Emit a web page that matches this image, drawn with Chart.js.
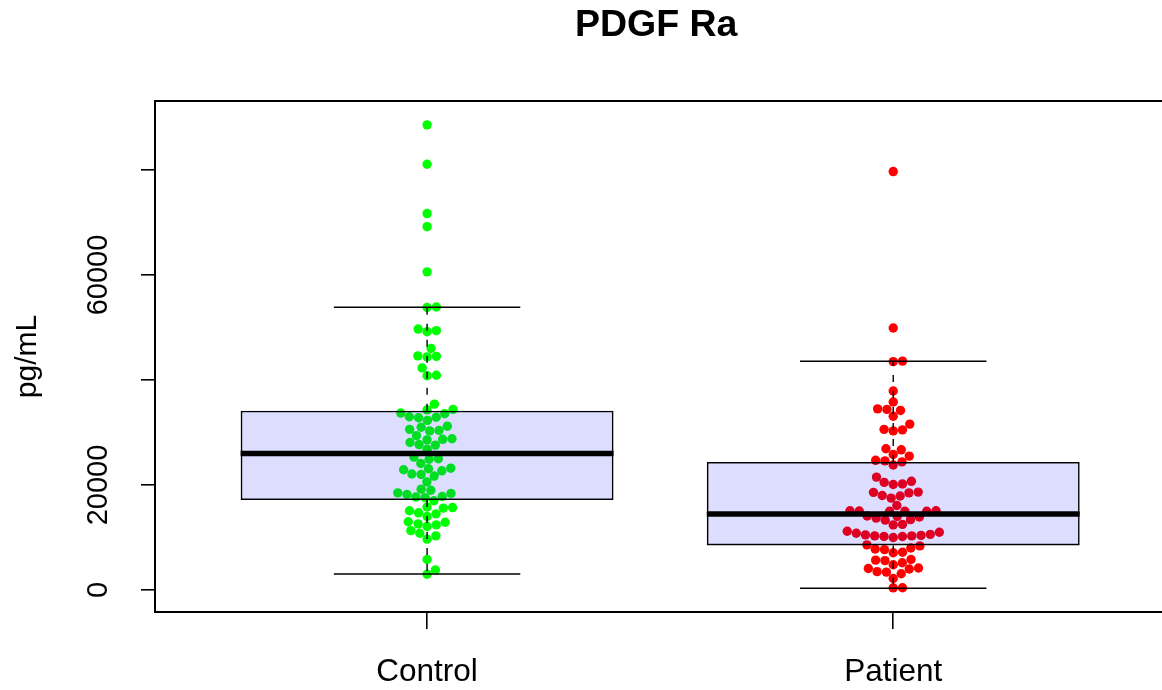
<!DOCTYPE html>
<html>
<head>
<meta charset="utf-8">
<script src="https://cdn.jsdelivr.net/npm/chart.js@4.4.1/dist/chart.umd.min.js"></script>
<style>
  body { margin: 0; background: #fff; }
</style>
</head>
<body>
<canvas id="grafico" width="1162" height="690"></canvas>
<script>
// categorías y valores (pg/mL)
const groups = ['Control', 'Patient'];

const control = [88600, 81100, 71700, 69200, 60600, 53800, 53900, 49700, 49200, 49400,
  46000, 44600, 44400, 44500, 42300, 40900, 40800, 35400, 34400, 34300,
  33700, 33600, 33000, 32900, 32800, 32300, 31200, 31000, 30600, 30300,
  30400, 29400, 28800, 28700, 28600, 28100, 27700, 27600, 26800, 25300,
  25000, 24900, 24100, 23100, 23200, 22900, 22700, 22100, 22000, 21700,
  20600, 19200, 19000, 18500, 18400, 18200, 17800, 17700, 17600, 17000,
  15800, 15700, 15600, 15100, 14700, 14500, 14000, 13000, 12900, 12600,
  12400, 12100, 11300, 10800, 10300, 9700, 5800, 3800, 3000];

const patient = [79700, 49900, 43600, 43500, 37900, 35800, 34500, 34400, 34200, 33100,
  31600, 30600, 30500, 30300, 26900, 26700, 25800, 25500, 24700, 24600,
  24400, 23800, 21500, 20700, 20500, 20200, 20100, 18650, 18600, 18500,
  18000, 17900, 17500, 16100, 15000, 15100, 15000, 15100, 15050, 15000,
  14000, 14100, 13900, 13700, 13300, 13400, 12400, 12500, 11200, 11000,
  10800, 10600, 10500, 10400, 10300, 10300, 10200, 10200, 10000, 8600,
  8400, 8000, 7800, 7700, 7200, 7100, 5800, 5700, 5600, 5200,
  4800, 4100, 4200, 4000, 3500, 3400, 3100, 2200, 400, 420];

// estadísticos de las cajas (bigote sup, Q3, mediana, Q1, bigote inf)
const whiskerHi = [53850, 43560];
const boxQ3 = [34150, 24400];
const boxMedian = [26000, 14480];
const boxQ1 = [17140, 8500];
const whiskerLo = [3050, 330];

const yTicks = [0, 20000, 40000, 60000, 80000];
const yTickLabels = ['0', '20000', '', '60000', ''];

const FONT = '"Liberation Sans", Arial, Helvetica, sans-serif';
const DOT = 9.3;      // diámetro de colisión del enjambre (px)
const BOX_HALF = 0.4; // mitad del ancho de la caja
const STAPLE_HALF = 0.2;

// segmentos de las cajas
const medianData = [];
const stapleData = [];
const whiskerData = [];
groups.forEach((g, i) => {
  const x = i + 1;
  medianData.push({x: x - BOX_HALF, y: boxMedian[i]}, {x: x + BOX_HALF, y: boxMedian[i]}, {x: x + 0.5, y: null});
  stapleData.push({x: x - STAPLE_HALF, y: whiskerHi[i]}, {x: x + STAPLE_HALF, y: whiskerHi[i]}, {x: x + 0.5, y: null});
  stapleData.push({x: x - STAPLE_HALF, y: whiskerLo[i]}, {x: x + STAPLE_HALF, y: whiskerLo[i]}, {x: x + 0.5, y: null});
  whiskerData.push({x: x, y: boxQ3[i]}, {x: x, y: whiskerHi[i]}, {x: x, y: null});
  whiskerData.push({x: x, y: boxQ1[i]}, {x: x, y: whiskerLo[i]}, {x: x, y: null});
});

// línea superior del marco (el lado derecho queda fuera del lienzo)
const marcoSuperior = {
  id: 'marcoSuperior',
  afterDraw(chart) {
    const {ctx, chartArea} = chart;
    ctx.save();
    ctx.strokeStyle = '#000';
    ctx.lineWidth = 2;
    ctx.beginPath();
    ctx.moveTo(chartArea.left - 1, chartArea.top);
    ctx.lineTo(chart.width, chartArea.top);
    ctx.moveTo(chartArea.right, chartArea.bottom);
    ctx.lineTo(chart.width, chartArea.bottom);
    ctx.stroke();
    ctx.restore();
  }
};

const ctx = document.getElementById('grafico').getContext('2d');

const chart = new Chart(ctx, {
  type: 'scatter',
  data: {
    datasets: [
      {
        label: 'Control',
        data: control.map(v => ({x: 1, y: v})),
        backgroundColor: '#00ff00',
        borderWidth: 0,
        pointRadius: 4.7,
        order: 5
      },
      {
        label: 'Patient',
        data: patient.map(v => ({x: 2, y: v})),
        backgroundColor: '#ff0000',
        borderWidth: 0,
        pointRadius: 4.7,
        order: 4
      },
      {
        type: 'bar',
        label: 'caja',
        data: groups.map((g, i) => ({x: i + 1, y: [boxQ1[i], boxQ3[i]]})),
        backgroundColor: 'rgba(0, 0, 255, 0.135)',
        borderColor: '#000',
        borderWidth: 1.6,
        borderSkipped: false,
        categoryPercentage: 0.8,
        barPercentage: 1,
        grouped: false,
        order: 3
      },
      {
        type: 'line',
        label: 'bigotes',
        data: whiskerData,
        borderColor: '#000',
        borderWidth: 1.4,
        borderDash: [7, 9],
        pointRadius: 0,
        spanGaps: false,
        order: 2
      },
      {
        type: 'line',
        label: 'topes',
        data: stapleData,
        borderColor: '#000',
        borderWidth: 1.6,
        pointRadius: 0,
        spanGaps: false,
        order: 1
      },
      {
        type: 'line',
        label: 'mediana',
        data: medianData,
        borderColor: '#000',
        borderWidth: 5.5,
        borderCapStyle: 'butt',
        pointRadius: 0,
        spanGaps: false,
        order: 0
      }
    ]
  },
  options: {
    responsive: false,
    animation: false,
    events: [],
    layout: { padding: 0 },
    plugins: {
      legend: { display: false },
      tooltip: { enabled: false },
      title: {
        display: true,
        fullSize: false,
        text: 'PDGF Ra',
        color: '#000',
        font: { family: FONT, size: 37.5, weight: 'bold' },
        padding: { top: 3, bottom: 101 - 3 - 45 }
      }
    },
    scales: {
      x: {
        type: 'linear',
        offset: false,
        min: 0.4163,
        max: 2.5665,
        afterBuildTicks: scale => { scale.ticks = groups.map((g, i) => ({value: i + 1})); },
        afterFit: scale => { scale.height = 78; },
        ticks: {
          autoSkip: false,
          maxRotation: 0,
          padding: 24,
          color: '#000',
          font: { family: FONT, size: 31.5 },
          callback: value => groups[value - 1]
        },
        grid: { offset: false, drawOnChartArea: false, tickLength: 17, color: '#000', lineWidth: 1.6 },
        border: { color: '#000', width: 2 }
      },
      y: {
        type: 'linear',
        min: -4190,
        max: 93140,
        afterBuildTicks: scale => { scale.ticks = yTicks.map(v => ({value: v})); },
        afterFit: scale => { scale.width = 155; },
        ticks: {
          autoSkip: false,
          minRotation: 90,
          maxRotation: 90,
          crossAlign: 'center',
          padding: 2,
          color: '#000',
          font: { family: FONT, size: 29 },
          callback: (value, index) => yTickLabels[index]
        },
        grid: { drawOnChartArea: false, tickLength: 14, color: '#000', lineWidth: 1.6 },
        border: { color: '#000', width: 2 },
        title: {
          display: true,
          text: 'pg/mL',
          color: '#000',
          font: { family: FONT, size: 30 },
          padding: { top: 10, bottom: 0 }
        }
      }
    }
  },
  plugins: [marcoSuperior]
});

// Enjambre (beeswarm "swarm", prioridad ascendente) calculado con las escalas del gráfico
const enjambre = (valores, grupo) => {
  const xs = chart.scales.x;
  const ys = chart.scales.y;
  const orden = valores.map((v, i) => i).sort((a, b) => valores[a] - valores[b]);
  const colocados = [];
  const desplaz = new Array(valores.length).fill(0);
  orden.forEach(i => {
    const py = ys.getPixelForValue(valores[i]);
    const cerca = colocados
      .filter(p => Math.abs(p.py - py) < DOT)
      .sort((a, b) => Math.abs(a.off) - Math.abs(b.off));
    let mejor = 0;
    if (cerca.length) {
      const cands = [0];
      cerca.forEach(p => cands.push(p.off + Math.sqrt(DOT * DOT - (p.py - py) ** 2)));
      cerca.forEach(p => cands.push(p.off - Math.sqrt(DOT * DOT - (p.py - py) ** 2)));
      mejor = Infinity;
      cands.forEach(c => {
        const malo = cerca.some(p => (c - p.off) ** 2 + (py - p.py) ** 2 < 0.999 * DOT * DOT);
        if (!malo && Math.abs(c) < Math.abs(mejor)) mejor = c;
      });
    }
    colocados.push({py, off: mejor});
    desplaz[i] = mejor;
  });
  const cx = xs.getPixelForValue(grupo);
  return valores.map((v, i) => ({x: xs.getValueForPixel(cx + desplaz[i]), y: v}));
};

chart.data.datasets[0].data = enjambre(control, 1);
chart.data.datasets[1].data = enjambre(patient, 2);
chart.update('none');
</script>
</body>
</html>
